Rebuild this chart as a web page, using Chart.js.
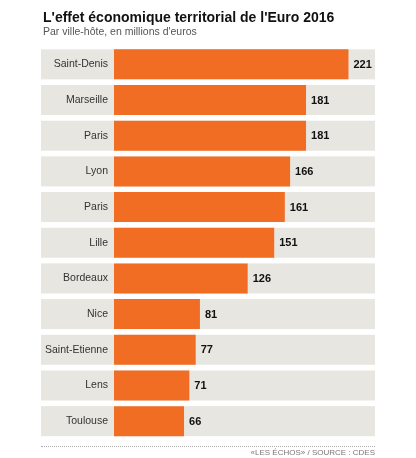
<!DOCTYPE html>
<html>
<head>
<meta charset="utf-8">
<script src="https://cdn.jsdelivr.net/npm/chart.js@4.4.0/dist/chart.umd.min.js"></script>
<style>
  body { margin: 0; background: #fff; font-family: 'Liberation Sans', Arial, sans-serif; }
  #wrap { position: relative; width: 416px; height: 458px; overflow: hidden; }
  #c { position: absolute; left: 0; top: 0; }
  .title { position: absolute; left: 43px; top: 9px; font-size: 14px; font-weight: bold; color: #111; white-space: nowrap; }
  .sub { position: absolute; left: 43px; top: 25px; font-size: 10.5px; color: #555; white-space: nowrap; }
  .rule { position: absolute; left: 41px; top: 446px; width: 334px; border-top: 1px dotted #aaa; }
  .src { position: absolute; right: 41px; top: 448px; font-size: 8px; color: #777; white-space: nowrap; }
</style>
</head>
<body>
<div id="wrap">
  <canvas id="c" width="416" height="458"></canvas>
  <div class="title">L'effet économique territorial de l'Euro 2016</div>
  <div class="sub">Par ville-hôte, en millions d'euros</div>
  <div class="rule"></div>
  <div class="src">«LES ÉCHOS» / SOURCE : CDES</div>
</div>
<script>
var cities = ['Saint-Denis', 'Marseille', 'Paris', 'Lyon', 'Paris', 'Lille', 'Bordeaux', 'Nice', 'Saint-Etienne', 'Lens', 'Toulouse'];
var impact = [221, 181, 181, 166, 161, 151, 126, 81, 77, 71, 66];
var xMax = 246;

var ORANGE = '#f26d24';
var BAND = '#e8e6e1';
var CAT_PCT = 0.841;

// grey row bands, drawn behind the axis labels
var bands = {
  id: 'bands',
  beforeDraw: function(chart){
    var ctx = chart.ctx, y = chart.scales.y, area = chart.chartArea;
    var pitch = Math.abs(y.getPixelForValue(1) - y.getPixelForValue(0));
    var h = pitch * CAT_PCT;
    ctx.save();
    ctx.fillStyle = BAND;
    for (var i = 0; i < cities.length; i++){
      var cy = y.getPixelForValue(i);
      ctx.fillRect(41, cy - h / 2, area.right - 41, h);
    }
    ctx.restore();
  }
};

// value at the end of each bar
var values = {
  id: 'values',
  afterDatasetsDraw: function(chart){
    var ctx = chart.ctx;
    var meta = chart.getDatasetMeta(0);
    ctx.save();
    ctx.font = 'bold 11px "Liberation Sans", Arial, sans-serif';
    ctx.fillStyle = '#111';
    ctx.textBaseline = 'middle';
    meta.data.forEach(function(bar, i){
      ctx.fillText(impact[i], bar.x + 5, bar.y + 0.5);
    });
    ctx.restore();
  }
};

new Chart(document.getElementById('c'), {
  type: 'bar',
  data: {
    labels: cities,
    datasets: [{
      data: impact,
      backgroundColor: ORANGE,
      borderWidth: 0,
      barPercentage: 1,
      categoryPercentage: CAT_PCT
    }]
  },
  options: {
    indexAxis: 'y',
    responsive: false,
    animation: false,
    layout: { padding: { left: 41, right: 41, top: 46.5, bottom: 19 } },
    plugins: { legend: { display: false }, tooltip: { enabled: false } },
    scales: {
      x: { display: false, min: 0, max: xMax },
      y: {
        grid: { display: false, drawTicks: false },
        border: { display: false },
        afterFit: function(scale){ scale.width = 73; },
        ticks: {
          padding: 6,
          color: '#333',
          font: { family: '"Liberation Sans", Arial, sans-serif', size: 10.5 }
        }
      }
    }
  },
  plugins: [bands, values]
});
</script>
</body>
</html>
